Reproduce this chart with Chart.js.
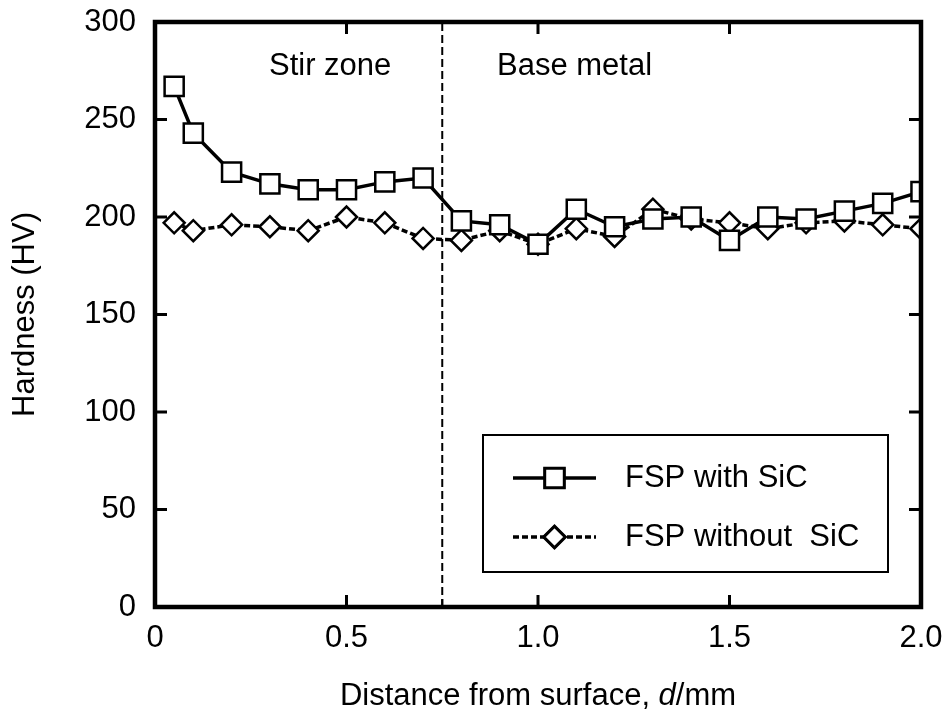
<!DOCTYPE html>
<html>
<head>
<meta charset="utf-8">
<script src="https://cdn.jsdelivr.net/npm/chart.js@4.4.0/dist/chart.umd.min.js"></script>
<style>
  html, body { margin: 0; padding: 0; background: #fff; }
  #wrap { width: 946px; height: 720px; }
</style>
</head>
<body>
<div id="wrap"><canvas id="hardnessChart"></canvas></div>
<script>
const distances = [0.05, 0.1, 0.2, 0.3, 0.4, 0.5, 0.6, 0.7, 0.8, 0.9, 1.0, 1.1, 1.2, 1.3, 1.4, 1.5, 1.6, 1.7, 1.8, 1.9, 2.0];
const withSiC = [267, 243, 223, 217, 214, 214, 218, 220, 198, 196, 186, 204, 195, 199, 200, 188, 200, 199, 203, 207, 213];
const withoutSiC = [197, 193, 196, 195, 193, 200, 197, 189, 188, 193, 186, 194, 190, 204, 199, 197, 194, 197, 198, 196, 194];
const boundaryX = 0.75;
const seriesNames = ['FSP with SiC', 'FSP without  SiC'];
const zoneLabels = ['Stir zone', 'Base metal'];
const xTitleParts = ['Distance from surface, ', 'd', '/mm'];
const xTicks = [0, 0.5, 1.0, 1.5, 2.0];
const yTicks = [0, 50, 100, 150, 200, 250, 300];

const FONT = 'Liberation Sans, Arial, sans-serif';
const FS = 31;

function toPoints(xs, ys) {
  return xs.map((x, i) => ({ x: x, y: ys[i] }));
}

// frame, inward ticks, zone labels, x title and legend box
const decorations = {
  id: 'decorations',
  afterDatasetsDraw(chart) {
    const ctx = chart.ctx;
    const a = chart.chartArea;
    const xs = chart.scales.x, ys = chart.scales.y;
    ctx.save();
    ctx.strokeStyle = '#000';
    ctx.lineCap = 'butt';

    // ticks
    ctx.lineWidth = 3;
    const tl = 12;
    xTicks.forEach(v => {
      const px = xs.getPixelForValue(v);
      ctx.beginPath();
      ctx.moveTo(px, a.bottom); ctx.lineTo(px, a.bottom - tl);
      ctx.moveTo(px, a.top); ctx.lineTo(px, a.top + tl);
      ctx.stroke();
    });
    yTicks.forEach(v => {
      const py = ys.getPixelForValue(v);
      ctx.beginPath();
      ctx.moveTo(a.left, py); ctx.lineTo(a.left + tl, py);
      ctx.moveTo(a.right, py); ctx.lineTo(a.right - tl, py);
      ctx.stroke();
    });
    // minor tick at boundary
    ctx.lineWidth = 2;
    const bx = xs.getPixelForValue(boundaryX);
    ctx.beginPath();
    ctx.moveTo(bx, a.bottom); ctx.lineTo(bx, a.bottom - 8);
    ctx.stroke();

    // frame
    ctx.lineWidth = 4.5;
    ctx.strokeRect(a.left, a.top, a.right - a.left, a.bottom - a.top);

    // zone labels
    ctx.fillStyle = '#000';
    ctx.font = FS + 'px ' + FONT;
    ctx.textBaseline = 'middle';
    ctx.textAlign = 'left';
    ctx.fillText(zoneLabels[0], 269, 66);
    ctx.fillText(zoneLabels[1], 497, 66);

    // x title with italic d
    const fonts = [FS + 'px ' + FONT, 'italic ' + FS + 'px ' + FONT, FS + 'px ' + FONT];
    let total = 0;
    const widths = xTitleParts.map((t, i) => { ctx.font = fonts[i]; const w = ctx.measureText(t).width; total += w; return w; });
    let tx = (a.left + a.right) / 2 - total / 2;
    xTitleParts.forEach((t, i) => { ctx.font = fonts[i]; ctx.fillText(t, tx, 696); tx += widths[i]; });
    ctx.font = FS + 'px ' + FONT;

    // legend
    const lx = 483, ly = 435, lw = 405, lh = 137;
    ctx.fillStyle = '#fff';
    ctx.fillRect(lx, ly, lw, lh);
    ctx.lineWidth = 2;
    ctx.strokeRect(lx, ly, lw, lh);
    const rows = [478, 537];
    chart.data.datasets.slice(0, 2).forEach((ds, i) => {
      const y = rows[i];
      ctx.lineWidth = ds.borderWidth;
      ctx.setLineDash(ds.borderDash || []);
      ctx.beginPath();
      ctx.moveTo(513, y); ctx.lineTo(596, y);
      ctx.stroke();
      ctx.setLineDash([]);
      Chart.helpers.drawPoint(ctx, {
        pointStyle: ds.pointStyle,
        radius: ds.pointRadius,
        borderWidth: ds.pointBorderWidth,
        rotation: 0
      }, 554.5, y);
      ctx.fillStyle = '#fff';
      ctx.strokeStyle = '#000';
      ctx.lineWidth = ds.pointBorderWidth;
      ctx.fill();
      ctx.stroke();
      ctx.fillStyle = '#000';
      ctx.fillText(ds.label, 625, y);
    });
    ctx.restore();
  }
};

new Chart(document.getElementById('hardnessChart'), {
  type: 'line',
  data: {
    datasets: [
      {
        label: seriesNames[0],
        data: toPoints(distances, withSiC),
        borderColor: '#000',
        borderWidth: 3.5,
        pointStyle: 'rect',
        pointRadius: 13.5,
        pointBorderWidth: 2.5,
        pointBackgroundColor: '#fff',
        pointBorderColor: '#000'
      },
      {
        label: seriesNames[1],
        data: toPoints(distances, withoutSiC),
        borderColor: '#000',
        borderWidth: 3.5,
        borderDash: [6, 3],
        pointStyle: 'rectRot',
        pointRadius: 10.5,
        pointBorderWidth: 2.5,
        pointBackgroundColor: '#fff',
        pointBorderColor: '#000'
      },
      {
        label: 'boundary',
        data: [{ x: boundaryX, y: 0 }, { x: boundaryX, y: 300 }],
        borderColor: '#000',
        borderWidth: 2,
        borderDash: [8, 4],
        pointRadius: 0
      }
    ]
  },
  options: {
    responsive: true,
    maintainAspectRatio: false,
    animation: false,
    layout: { padding: { top: 22, right: 25, left: 0, bottom: 0 } },
    plugins: { legend: { display: false }, tooltip: { enabled: false } },
    scales: {
      x: {
        type: 'linear',
        min: 0,
        max: 2,
        grid: { display: false, drawTicks: false },
        border: { display: false },
        afterFit: s => { s.height = 113; s.paddingLeft = 0; s.paddingRight = 0; },
        ticks: {
          stepSize: 0.5,
          color: '#000',
          font: { family: FONT, size: FS },
          padding: 13,
          maxRotation: 0,
          callback: v => v === 0 ? '0' : v.toFixed(1)
        },
        title: { display: false }
      },
      y: {
        min: 0,
        max: 300,
        grid: { display: false, drawTicks: false },
        border: { display: false },
        afterFit: s => { s.width = 155; s.paddingTop = 0; s.paddingBottom = 0; },
        ticks: {
          stepSize: 50,
          color: '#000',
          font: { family: FONT, size: FS },
          padding: 19
        },
        title: {
          display: true,
          text: 'Hardness (HV)',
          color: '#000',
          font: { family: FONT, size: FS },
          padding: { top: 7, bottom: 0 }
        }
      }
    }
  },
  plugins: [decorations]
});
</script>
</body>
</html>
